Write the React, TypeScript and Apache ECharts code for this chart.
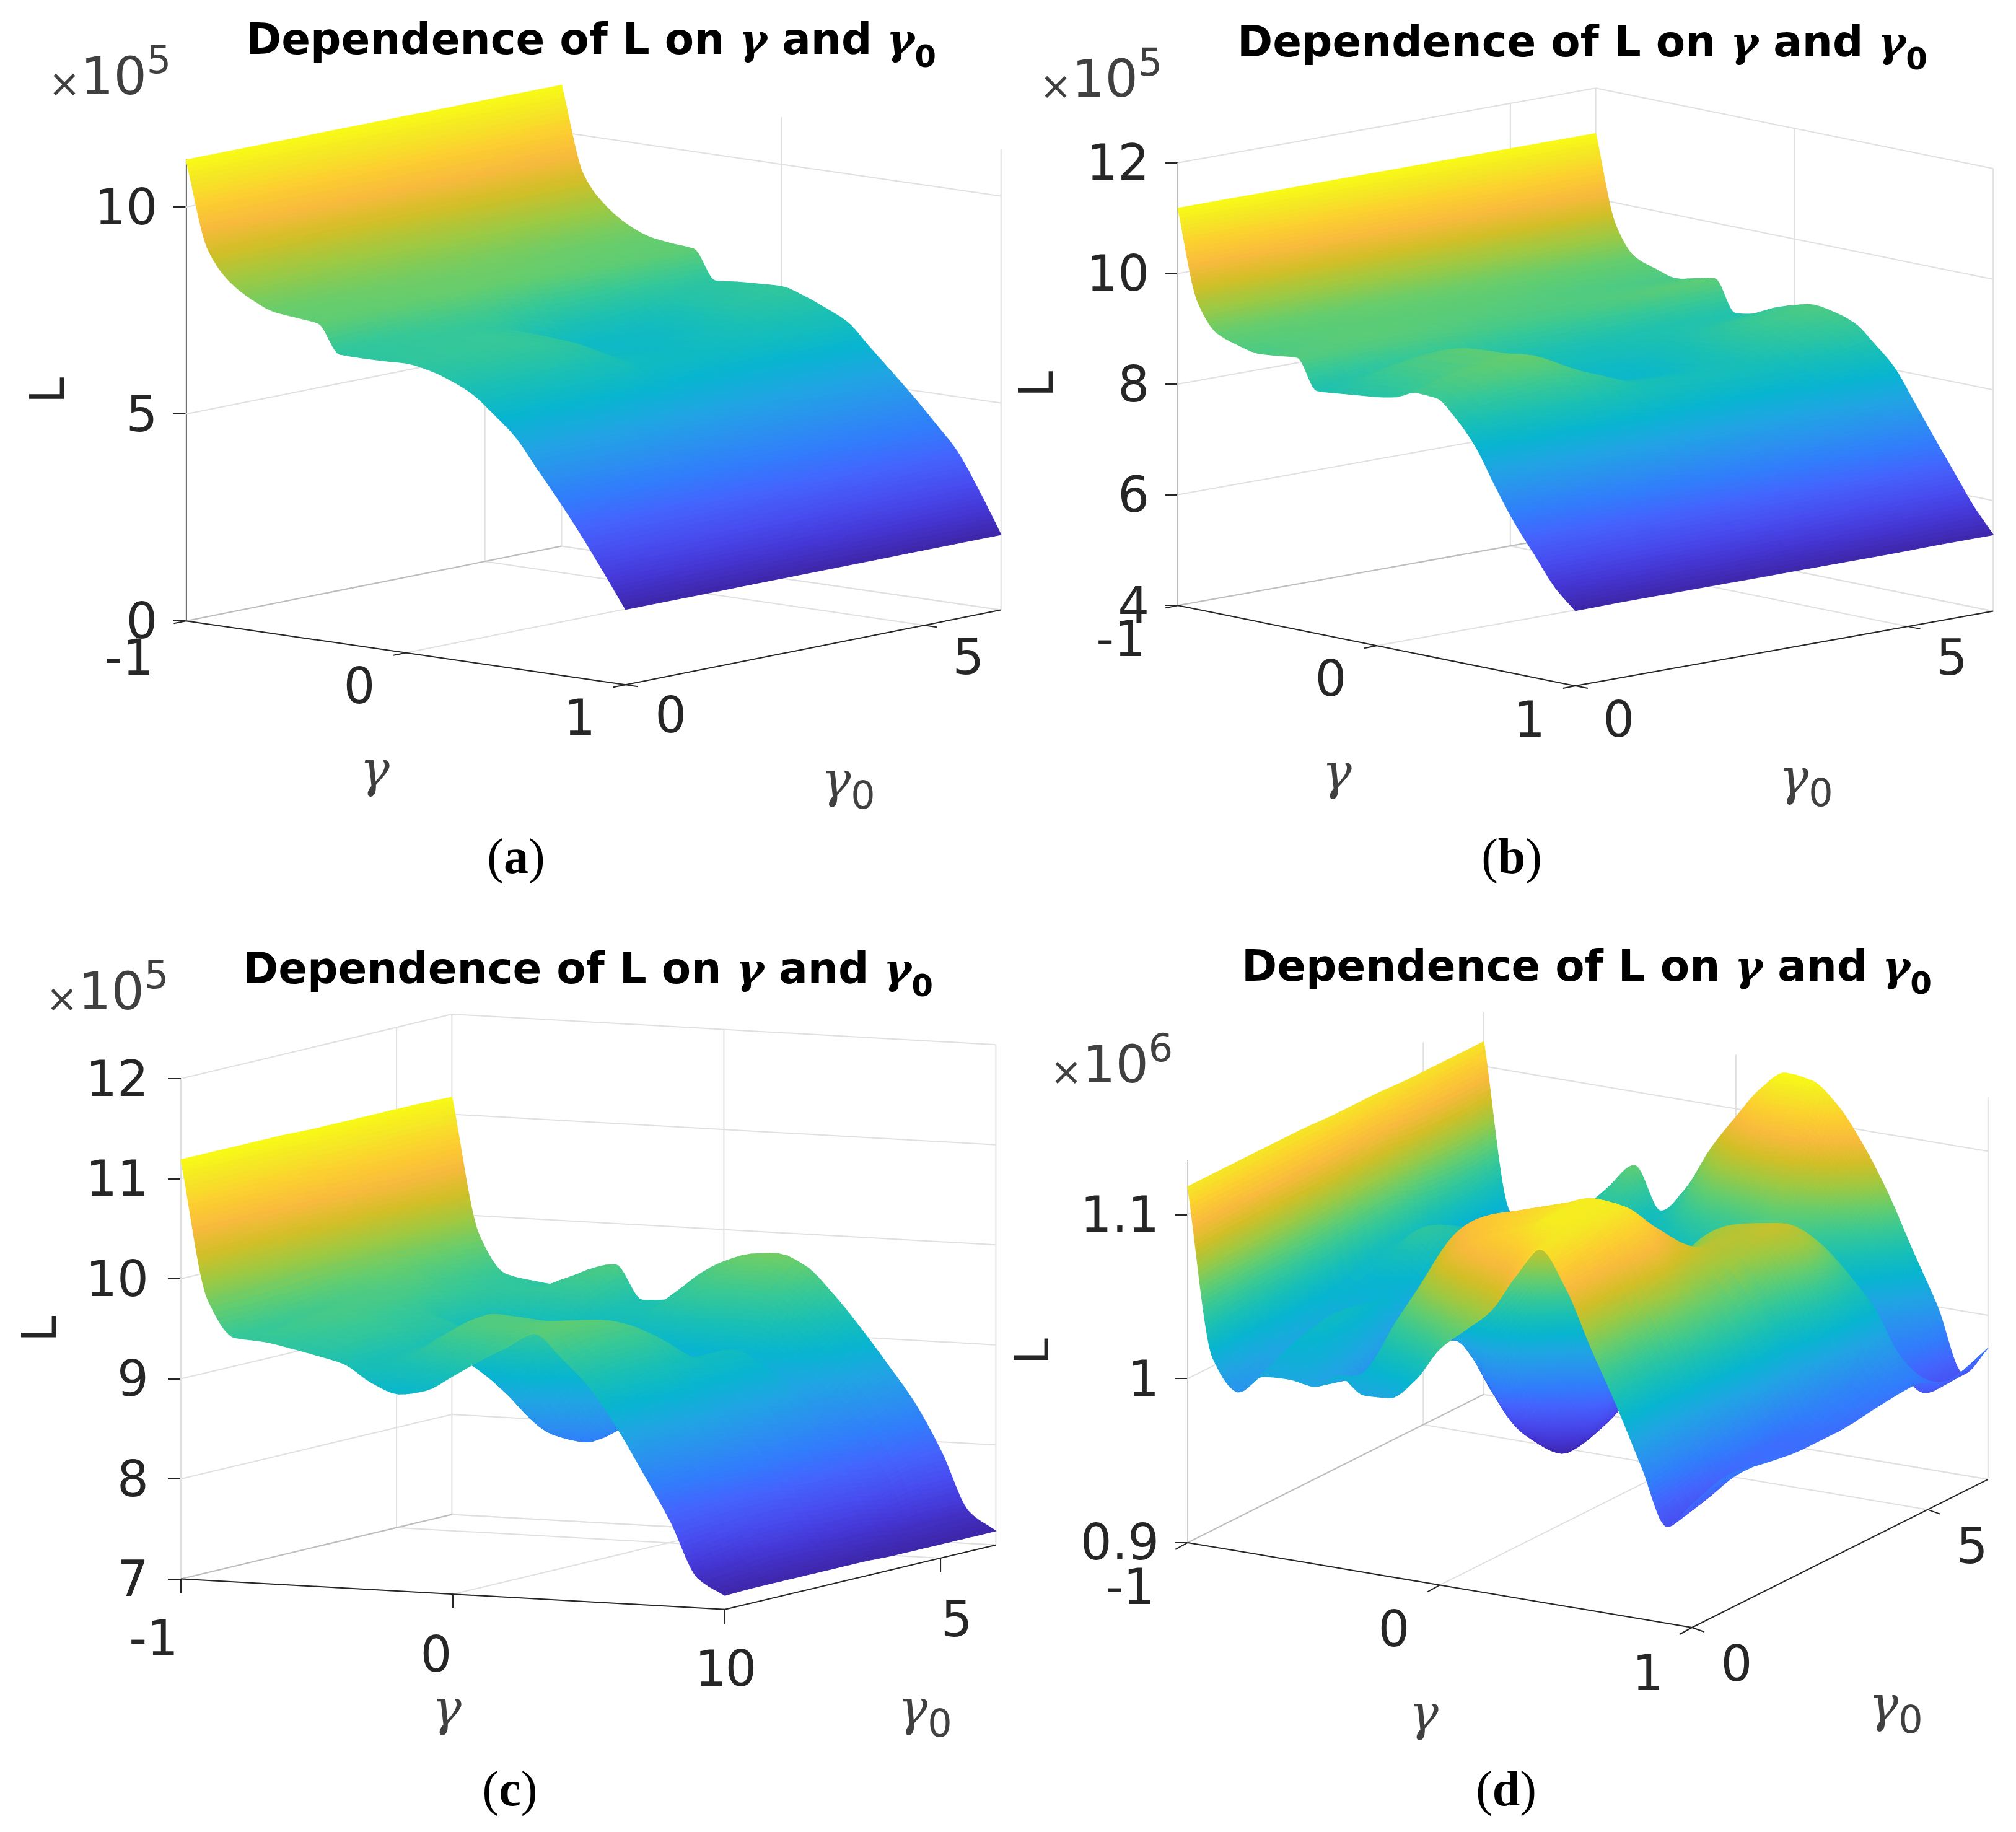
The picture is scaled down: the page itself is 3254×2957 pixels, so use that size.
import React, { useEffect, useRef } from "react";
import * as echarts from "echarts";

const gammaValues = [-1, -0.9, -0.8, -0.7, -0.6, -0.5, -0.4, -0.3, -0.2, -0.1, 0, 0.1, 0.2, 0.3, 0.4, 0.5, 0.6, 0.7, 0.8, 0.9, 1];
const gamma0Values = [0, 0.785, 1.571, 2.356, 3.142, 3.927, 4.712, 5.498, 6.283];

// L(gamma, gamma0): one row per gamma0 value, one column per gamma value
const surfaceA = [
  [11.14, 9.05, 8.35, 8.0, 7.78, 7.72, 7.66, 6.98, 6.97, 6.98, 7.0, 6.92, 6.75, 6.5, 6.08, 5.6, 4.9, 4.2, 3.45, 2.65, 1.82],
  [11.14, 9.06, 8.36, 8.02, 7.8, 7.74, 7.68, 7.1, 7.05, 7.06, 7.08, 7.02, 6.85, 6.55, 6.1, 5.6, 4.9, 4.2, 3.48, 2.66, 1.82],
  [11.14, 9.07, 8.38, 8.05, 7.85, 7.78, 7.72, 7.25, 7.1, 7.12, 7.12, 7.08, 6.92, 6.58, 6.12, 5.6, 4.9, 4.22, 3.5, 2.68, 1.82],
  [11.14, 9.07, 8.4, 8.08, 7.88, 7.8, 7.78, 7.3, 7.0, 6.98, 6.95, 6.9, 6.75, 6.5, 6.1, 5.55, 4.88, 4.22, 3.52, 2.7, 1.82],
  [11.14, 9.07, 8.4, 8.08, 7.9, 7.82, 7.75, 7.0, 6.45, 6.35, 6.3, 6.32, 6.3, 6.2, 5.95, 5.5, 4.85, 4.24, 3.55, 2.72, 1.82],
  [11.14, 9.07, 8.4, 8.06, 7.88, 7.8, 7.7, 6.7, 6.25, 6.2, 6.2, 6.22, 6.25, 6.18, 5.9, 5.45, 4.85, 4.25, 3.6, 2.75, 1.82],
  [11.14, 9.06, 8.38, 8.03, 7.82, 7.75, 7.68, 6.75, 6.35, 6.3, 6.35, 6.42, 6.38, 6.25, 5.88, 5.42, 4.85, 4.26, 3.62, 2.77, 1.82],
  [11.14, 9.05, 8.38, 8.0, 7.8, 7.72, 7.66, 6.9, 6.75, 6.78, 6.82, 6.76, 6.6, 6.38, 5.9, 5.4, 4.85, 4.27, 3.65, 2.78, 1.82],
  [11.14, 9.05, 8.38, 8.0, 7.78, 7.7, 7.65, 6.95, 7.0, 7.03, 7.05, 6.9, 6.68, 6.42, 5.9, 5.38, 4.85, 4.28, 3.68, 2.8, 1.82],
];

const surfaceB = [
  [11.18, 9.56, 9.06, 8.93, 8.85, 8.88, 8.92, 8.39, 8.42, 8.46, 8.5, 8.57, 8.72, 8.7, 8.4, 7.95, 7.3, 6.7, 6.2, 5.7, 5.36],
  [11.18, 9.57, 9.07, 8.98, 8.95, 8.95, 8.9, 8.55, 8.72, 8.8, 8.82, 8.85, 8.95, 8.88, 8.5, 8.0, 7.35, 6.72, 6.22, 5.72, 5.37],
  [11.18, 9.58, 9.08, 9.0, 8.98, 8.98, 8.9, 8.7, 8.85, 8.95, 8.98, 9.0, 9.05, 8.95, 8.55, 8.02, 7.4, 6.75, 6.25, 5.74, 5.37],
  [11.18, 9.58, 9.1, 9.02, 8.98, 8.95, 8.85, 8.6, 8.55, 8.5, 8.5, 8.55, 8.62, 8.62, 8.4, 7.98, 7.4, 6.8, 6.25, 5.75, 5.37],
  [11.18, 9.58, 9.12, 9.02, 8.98, 8.92, 8.8, 8.45, 8.3, 8.15, 8.1, 8.15, 8.25, 8.3, 8.2, 7.88, 7.35, 6.8, 6.28, 5.76, 5.37],
  [11.18, 9.58, 9.12, 9.02, 8.95, 8.9, 8.8, 8.4, 8.25, 8.1, 8.05, 8.1, 8.2, 8.25, 8.12, 7.85, 7.35, 6.82, 6.3, 5.78, 5.37],
  [11.18, 9.59, 9.1, 8.98, 8.9, 8.9, 8.85, 8.4, 8.35, 8.3, 8.3, 8.35, 8.35, 8.3, 8.12, 7.85, 7.4, 6.85, 6.32, 5.8, 5.37],
  [11.18, 9.6, 9.09, 8.96, 8.87, 8.9, 8.95, 8.42, 8.45, 8.55, 8.65, 8.7, 8.65, 8.5, 8.25, 7.95, 7.45, 6.9, 6.35, 5.82, 5.38],
  [11.18, 9.6, 9.08, 8.95, 8.85, 8.92, 8.99, 8.44, 8.5, 8.68, 8.8, 8.88, 8.82, 8.7, 8.4, 8.05, 7.5, 6.93, 6.38, 5.83, 5.38],
];

const surfaceC = [
  [11.19, 9.8, 9.44, 9.42, 9.37, 9.31, 9.24, 9.07, 8.97, 9.02, 9.18, 9.35, 9.5, 9.65, 9.42, 9.15, 8.77, 8.32, 7.85, 7.3, 7.14],
  [11.19, 9.8, 9.45, 9.5, 9.45, 9.4, 9.2, 9.25, 9.4, 9.55, 9.6, 9.62, 9.65, 9.67, 9.5, 9.18, 8.8, 8.35, 7.88, 7.35, 7.15],
  [11.19, 9.82, 9.5, 9.55, 9.5, 9.4, 9.25, 9.3, 9.5, 9.62, 9.6, 9.58, 9.6, 9.62, 9.5, 9.2, 8.85, 8.4, 7.9, 7.4, 7.15],
  [11.19, 9.85, 9.55, 9.55, 9.45, 9.35, 9.15, 9.0, 8.8, 8.6, 8.75, 9.0, 9.3, 9.45, 9.35, 9.05, 8.75, 8.35, 7.9, 7.4, 7.15],
  [11.18, 9.85, 9.6, 9.55, 9.4, 9.3, 9.1, 8.85, 8.5, 8.25, 8.2, 8.4, 8.7, 9.0, 9.1, 9.0, 8.7, 8.3, 7.85, 7.35, 7.15],
  [11.18, 9.85, 9.65, 9.47, 9.17, 9.0, 8.95, 8.85, 8.6, 8.35, 8.3, 8.45, 8.75, 9.0, 9.1, 8.95, 8.65, 8.25, 7.85, 7.35, 7.14],
  [11.18, 9.82, 9.55, 9.42, 9.22, 9.1, 9.05, 9.0, 8.9, 8.75, 8.7, 8.75, 8.85, 8.9, 8.85, 8.75, 8.5, 8.2, 7.8, 7.3, 7.14],
  [11.18, 9.81, 9.5, 9.4, 9.4, 9.45, 9.45, 9.2, 9.2, 9.3, 9.4, 9.45, 9.45, 9.4, 9.2, 8.95, 8.65, 8.3, 7.88, 7.32, 7.14],
  [11.17, 9.81, 9.43, 9.38, 9.35, 9.52, 9.59, 9.25, 9.27, 9.52, 9.68, 9.77, 9.79, 9.68, 9.42, 9.1, 8.75, 8.38, 7.9, 7.32, 7.14],
];

const surfaceD = [
  [1.117, 1.015, 0.997, 1.009, 1.01, 1.008, 1.017, 1.008, 1.009, 1.022, 1.044, 1.058, 1.072, 1.096, 1.115, 1.094, 1.06, 1.028, 0.993, 0.959, 0.975],
  [1.117, 1.018, 1.005, 1.02, 1.015, 1.002, 1.006, 1.045, 1.07, 1.088, 1.098, 1.105, 1.112, 1.12, 1.118, 1.095, 1.062, 1.03, 0.995, 0.965, 0.982],
  [1.117, 1.02, 1.01, 1.025, 1.01, 0.99, 1.0, 1.05, 1.09, 1.1, 1.105, 1.11, 1.115, 1.12, 1.118, 1.1, 1.07, 1.04, 1.0, 0.975, 0.978],
  [1.117, 1.02, 1.015, 1.02, 1.0, 0.995, 1.01, 0.995, 0.975, 0.99, 1.02, 1.05, 1.075, 1.09, 1.095, 1.085, 1.065, 1.045, 1.01, 0.975, 0.975],
  [1.116, 1.025, 1.02, 1.015, 0.995, 1.0, 0.975, 0.955, 0.94, 0.933, 0.945, 0.97, 1.01, 1.045, 1.068, 1.075, 1.07, 1.05, 1.015, 0.985, 0.975],
  [1.116, 1.03, 1.04, 1.03, 1.005, 0.985, 0.97, 0.96, 0.95, 0.945, 0.955, 0.985, 1.03, 1.062, 1.072, 1.075, 1.078, 1.07, 1.03, 0.99, 0.978],
  [1.115, 1.02, 1.03, 1.03, 1.02, 1.01, 1.0, 0.995, 0.995, 1.0, 1.01, 1.025, 1.035, 1.044, 1.06, 1.063, 1.059, 1.047, 1.028, 1.0, 0.98],
  [1.115, 1.015, 1.01, 1.015, 1.02, 1.03, 1.03, 1.02, 1.02, 1.03, 1.04, 1.045, 1.05, 1.054, 1.05, 1.035, 1.015, 0.995, 0.98, 0.962, 0.972],
  [1.115, 1.015, 1.0, 1.01, 1.02, 1.04, 1.055, 1.03, 1.046, 1.073, 1.095, 1.115, 1.127, 1.125, 1.113, 1.092, 1.065, 1.032, 1.0, 0.962, 0.98],
];

const gammaTicksAll = [-1, 0, 1];
const gamma0TicksAll = [0, 5];
const lTicksA = [0, 5, 10];
const lTicksB = [4, 6, 8, 10, 12];
const lTicksC = [7, 8, 9, 10, 11, 12];
const lTicksD = [0.9, 1, 1.1];

const parulaStops: [number, number[]][] = [
  [0, [62, 38, 168]], [4, [69, 55, 213]], [8, [72, 77, 240]], [12, [69, 99, 253]],
  [16, [50, 124, 252]], [20, [43, 145, 239]], [24, [32, 165, 227]], [28, [8, 181, 208]],
  [32, [25, 191, 182]], [36, [55, 200, 151]], [40, [100, 205, 111]], [44, [157, 201, 67]],
  [48, [209, 191, 39]], [52, [248, 186, 61]], [56, [252, 207, 48]], [60, [245, 233, 36]],
  [63, [249, 251, 21]],
];

function parula(f: number) {
  const p = Math.max(0, Math.min(1, f)) * 63;
  let k = 0;
  while (k < parulaStops.length - 2 && parulaStops[k + 1][0] < p) k++;
  const [a, ca] = parulaStops[k];
  const [b, cb] = parulaStops[k + 1];
  const w = (p - a) / (b - a);
  const c = ca.map((v, i) => Math.round(v + (cb[i] - v) * w));
  return `rgb(${c[0]},${c[1]},${c[2]})`;
}

// monotone cubic shading between the four neighbours of a grid step
function pchip(y0: number | undefined, y1: number, y2: number, y3: number | undefined, s: number) {
  const d1 = y2 - y1;
  const slope = (a: number | undefined, b: number | undefined) => {
    if (a === undefined || b === undefined) return d1;
    return a * b > 0 ? (2 * a * b) / (a + b) : 0;
  };
  const m1 = slope(y0 === undefined ? undefined : y1 - y0, d1);
  const m2 = slope(d1, y3 === undefined ? undefined : y3 - y2);
  const s2 = s * s, s3 = s2 * s;
  return (2 * s3 - 3 * s2 + 1) * y1 + (s3 - 2 * s2 + s) * m1 + (-2 * s3 + 3 * s2) * y2 + (s3 - s2) * m2;
}

const INK = "#262626";
const GRID = "#e0e0e0";
const SANS = "DejaVu Sans";
const SERIF = "DejaVu Serif";
const CAPTION = "Liberation Serif";

interface Panel {
  surface: number[][]; lTicks: number[]; lMin: number; lMax: number;
  A: [number, number]; u: [number, number]; t: [number, number]; zScale: number;
  title: [number, number]; caption: [string, number, number]; exponent: [string, number, number];
  nameGap: number; labelMargin: number;
  gammaLabelOffsets: [number, number][]; gamma0LabelOffsets: [number, number][];
  gammaName: [number, number]; gamma0Name: [number, number];
  uTick: [number, number]; tTick: [number, number];
}

const panels: Panel[] = [
  {
    surface: surfaceA, lTicks: lTicksA, lMin: 0, lMax: 11.14,
    A: [300.4, 1002.2], u: [709.3, 103], t: [606, -120.6], zScale: 66.8,
    title: [949, 5], caption: ["a", 828, 1383], exponent: ["5", 78, 115], nameGap: 186, labelMargin: 46,
    gammaLabelOffsets: [[-92, 59], [-75, 54], [-74, 53]], gamma0LabelOffsets: [[73, 49], [71, 51]],
    gammaName: [605, 1241], gamma0Name: [1369, 1266], uTick: [-20, 4], tTick: [20, 3],
  },
  {
    surface: surfaceB, lTicks: lTicksB, lMin: 4, lMax: 12,
    A: [1901.2, 977.2], u: [641.6, 129.9], t: [674.4, -120.6], zScale: 89.3,
    title: [2549, 9], caption: ["b", 2435, 1383], exponent: ["5", 1678, 119], nameGap: 191, labelMargin: 46,
    gammaLabelOffsets: [[-92, 54], [-74, 53], [-74, 54]], gamma0LabelOffsets: [[70, 54], [71, 50]],
    gammaName: [2158, 1245], gamma0Name: [2915, 1262], uTick: [-20, 4], tTick: [20, 4],
  },
  {
    surface: surfaceC, lTicks: lTicksC, lMin: 7, lMax: 12,
    A: [292, 2548.5], u: [878, 49.2], t: [437.4, -104], zScale: 161.5,
    title: [944, 1505], caption: ["c", 818, 2888], exponent: ["5", 74, 1592], nameGap: 191, labelMargin: 52,
    gammaLabelOffsets: [[-44, 96], [-27, 97], [-23, 96]], gamma0LabelOffsets: [[26, 96], [26, 99]],
    gammaName: [721, 2756], gamma0Name: [1493, 2764], uTick: [0, 23], tTick: [0, 23],
  },
  {
    surface: surfaceD, lTicks: lTicksD, lMin: 0.9, lMax: 1.133,
    A: [1917.1, 2489.9], u: [813.9, 137.1], t: [477.8, -239.2], zScale: 2648,
    title: [2556, 1501], caption: ["d", 2426, 2888], exponent: ["6", 1695, 1710], nameGap: 214, labelMargin: 46,
    gammaLabelOffsets: [[-93, 72], [-74, 71], [-71, 73]], gamma0LabelOffsets: [[72, 58], [72, 59]],
    gammaName: [2298, 2764], gamma0Name: [3060, 2758], uTick: [-20, 11], tTick: [20, 7],
  },
];

const gammaMin = gammaValues[0];
const gammaSpan = gammaValues[gammaValues.length - 1] - gammaMin;
const gamma0Max = gamma0Values[gamma0Values.length - 1];

function buildOption(): any {
  const grid: any[] = [], xAxis: any[] = [], yAxis: any[] = [], series: any[] = [], title: any[] = [];

  panels.forEach((p, idx) => {
    const W = p.u[0] + p.t[0];
    const H = (p.lMax - p.lMin) * p.zScale;
    grid.push({ left: p.A[0], top: p.A[1] - H, width: W, height: H, containLabel: false });
    xAxis.push({ gridIndex: idx, type: "value", min: 0, max: 1, show: false });
    yAxis.push({
      gridIndex: idx, type: "value", min: p.lMin, max: p.lMax, position: "left",
      name: "L", nameLocation: "middle", nameGap: p.nameGap,
      nameTextStyle: { fontFamily: SANS, fontSize: 76, color: INK },
      axisLine: { show: true, onZero: false, lineStyle: { color: INK, width: 2 } },
      axisTick: { show: true, length: 21, customValues: p.lTicks, lineStyle: { color: INK, width: 2 } },
      axisLabel: {
        show: true, customValues: p.lTicks, margin: p.labelMargin, fontFamily: SANS, fontSize: 80, color: INK,
        padding: [0, 0, 8, 0],
        formatter: (v: number) => String(Math.round(v * 1000) / 1000),
      },
      splitLine: { show: false },
    });

    const proj = (api: any, g: number, g0: number, L: number) => {
      const uf = (g - gammaMin) / gammaSpan;
      const tf = g0 / gamma0Max;
      return api.coord([(uf * p.u[0] + tf * p.t[0]) / W, L - (uf * p.u[1] + tf * p.t[1]) / p.zScale]);
    };

    const gMin = gammaMin, gMax = gammaMin + gammaSpan;
    series.push({
      type: "custom", xAxisIndex: idx, yAxisIndex: idx, coordinateSystem: "cartesian2d", silent: true, z: 1,
      data: [[0, 0]],
      renderItem: (_: any, api: any) => {
        const children: any[] = [];
        const line = (a: number[], b: number[], color: string, w = 2) =>
          children.push({ type: "line", shape: { x1: a[0], y1: a[1], x2: b[0], y2: b[1] }, style: { stroke: color, lineWidth: w }, silent: true });
        const P = (g: number, g0: number, L: number) => proj(api, g, g0, L);
        p.lTicks.forEach((L) => {
          line(P(gMin, 0, L), P(gMin, gamma0Max, L), GRID);
          line(P(gMin, gamma0Max, L), P(gMax, gamma0Max, L), GRID);
        });
        gamma0TicksAll.forEach((g0) => {
          line(P(gMin, g0, p.lMin), P(gMin, g0, p.lMax), GRID);
          line(P(gMin, g0, p.lMin), P(gMax, g0, p.lMin), GRID);
        });
        line(P(gMin, gamma0Max, p.lMin), P(gMin, gamma0Max, p.lMax), GRID);
        line(P(gMin, gamma0Max, p.lMin), P(gMax, gamma0Max, p.lMin), GRID);
        gammaTicksAll.forEach((g) => {
          line(P(g, 0, p.lMin), P(g, gamma0Max, p.lMin), g === gMin ? "#bdbdbd" : GRID);
          if (g !== gMin) line(P(g, gamma0Max, p.lMin), P(g, gamma0Max, p.lMax), GRID);
        });
        line(P(gMin, 0, p.lMin), P(gMax, 0, p.lMin), INK);
        line(P(gMax, 0, p.lMin), P(gMax, gamma0Max, p.lMin), INK);
        const label = (text: string, at: number[], off: [number, number]) =>
          children.push({
            type: "text", x: at[0] + off[0], y: at[1] + off[1], silent: true,
            style: { text, fontFamily: SANS, fontSize: 80, fill: INK, align: "center", verticalAlign: "middle" },
          });
        gammaTicksAll.forEach((g, i) => {
          const a = P(g, 0, p.lMin);
          line(a, [a[0] + p.uTick[0], a[1] + p.uTick[1]], INK);
          label(String(g), a, p.gammaLabelOffsets[i]);
        });
        gamma0TicksAll.forEach((g0, i) => {
          const a = P(gMax, g0, p.lMin);
          line(a, [a[0] + p.tTick[0], a[1] + p.tTick[1]], INK);
          label(String(g0), a, p.gamma0LabelOffsets[i]);
        });
        return { type: "group", children };
      },
    });

    const flat = p.surface.flat();
    const cMin = Math.min(...flat), cMax = Math.max(...flat);
    const cells: number[][] = [];
    for (let j = gamma0Values.length - 2; j >= 0; j--)
      for (let i = 0; i < gammaValues.length - 1; i++) cells.push([i, j]);
    const S = p.surface;
    series.push({
      type: "custom", xAxisIndex: idx, yAxisIndex: idx, coordinateSystem: "cartesian2d", silent: true, z: 2,
      data: cells,
      encode: { x: 0, y: 1 },
      renderItem: (params: any, api: any) => {
        const [i, j] = cells[params.dataIndex];
        const z00 = S[j][i], z10 = S[j][i + 1], z01 = S[j + 1][i], z11 = S[j + 1][i + 1];
        const g1 = gammaValues[i], g2 = gammaValues[i + 1], t1 = gamma0Values[j], t2 = gamma0Values[j + 1];
        const step = (cMax - cMin) / 100;
        const su = Math.min(40, Math.max(3, Math.ceil(Math.max(Math.abs(z10 - z00), Math.abs(z11 - z01)) / step)));
        const st = Math.min(40, Math.max(3, Math.ceil(Math.max(Math.abs(z01 - z00), Math.abs(z11 - z10)) / step)));
        const rowAt = (r: number, a: number) => {
          const row = S[r];
          return row === undefined ? undefined : pchip(row[i - 1], row[i], row[i + 1], row[i + 2], a);
        };
        const Z = (a: number, b: number) =>
          pchip(rowAt(j - 1, a), rowAt(j, a) as number, rowAt(j + 1, a) as number, rowAt(j + 2, a), b);
        const Q = (a: number, b: number) => proj(api, g1 + (g2 - g1) * a, t1 + (t2 - t1) * b, Z(a, b));
        const children: any[] = [];
        for (let b = st - 1; b >= 0; b--) {
          for (let a = 0; a < su; a++) {
            const a1 = a / su, a2 = (a + 1) / su, b1 = b / st, b2 = (b + 1) / st;
            const col = parula((Z((a1 + a2) / 2, (b1 + b2) / 2) - cMin) / (cMax - cMin));
            children.push({
              type: "polygon", silent: true,
              shape: { points: [Q(a1, b1), Q(a2, b1), Q(a2, b2), Q(a1, b2)] },
              style: { fill: col, stroke: col, lineWidth: 1.2 },
            });
          }
        }
        return { type: "group", children };
      },
    });

    series.push({
      type: "custom", xAxisIndex: idx, yAxisIndex: idx, coordinateSystem: "cartesian2d", silent: true, z: 3,
      data: [[0, 0]],
      renderItem: () => ({
        type: "group",
        children: [
          {
            type: "text", x: p.gammaName[0], y: p.gammaName[1], silent: true,
            style: { text: "γ", fontFamily: SERIF, fontStyle: "italic", fontSize: 80, fill: "#404040", align: "center", verticalAlign: "middle" },
          },
          {
            type: "text", x: p.gamma0Name[0], y: p.gamma0Name[1], silent: true,
            style: {
              text: "{g|γ}{s|0}", align: "center", verticalAlign: "middle",
              rich: {
                g: { fontFamily: SERIF, fontStyle: "italic", fontSize: 80, fill: "#404040", verticalAlign: "top" },
                s: { fontFamily: SANS, fontSize: 62, fill: "#404040", verticalAlign: "bottom", padding: [34, 0, 0, 0] },
              },
            },
          },
          {
            type: "text", x: p.exponent[1], y: p.exponent[2], silent: true,
            style: {
              text: `{x|×}{n|10}{e|${p.exponent[0]}}`, align: "left", verticalAlign: "middle",
              rich: {
                x: { fontFamily: SANS, fontSize: 62, fill: "#404040", verticalAlign: "bottom" },
                n: { fontFamily: SANS, fontSize: 84, fill: "#404040", verticalAlign: "bottom" },
                e: { fontFamily: SANS, fontSize: 62, fill: "#404040", verticalAlign: "top", padding: [0, 0, 38, 0] },
              },
            },
          },
        ],
      }),
    });

    title.push({
      left: p.title[0], top: p.title[1], textAlign: "center",
      text: "{t|Dependence of L on }{g|γ}{t| and }{g|γ}{s|0}",
      textStyle: {
        rich: {
          t: { fontFamily: SANS, fontWeight: "bold", fontSize: 69, color: "#000" },
          g: { fontFamily: SERIF, fontWeight: "bold", fontStyle: "italic", fontSize: 68, color: "#000" },
          s: { fontFamily: SANS, fontWeight: "bold", fontSize: 50, color: "#000", verticalAlign: "bottom", padding: [56, 0, 0, 0] },
        },
      },
    });
    title.push({
      left: p.caption[1], top: p.caption[2] - 46, textAlign: "center",
      text: `{t|(}{b|${p.caption[0]}}{t|)}`,
      textStyle: {
        rich: {
          t: { fontFamily: CAPTION, fontWeight: "normal", fontSize: 80, color: "#000" },
          b: { fontFamily: CAPTION, fontWeight: "bold", fontSize: 80, color: "#000" },
        },
      },
    });
  });

  return { animation: false, backgroundColor: "#fff", title, grid, xAxis, yAxis, series, tooltip: { show: false } };
}

export default function App() {
  const ref = useRef<HTMLDivElement>(null);
  useEffect(() => {
    document.body.style.margin = "0";
    const chart = echarts.init(ref.current!, undefined, { renderer: "svg" });
    chart.setOption(buildOption());
    return () => chart.dispose();
  }, []);
  return <div ref={ref} style={{ width: 3254, height: 2957 }} />;
}
